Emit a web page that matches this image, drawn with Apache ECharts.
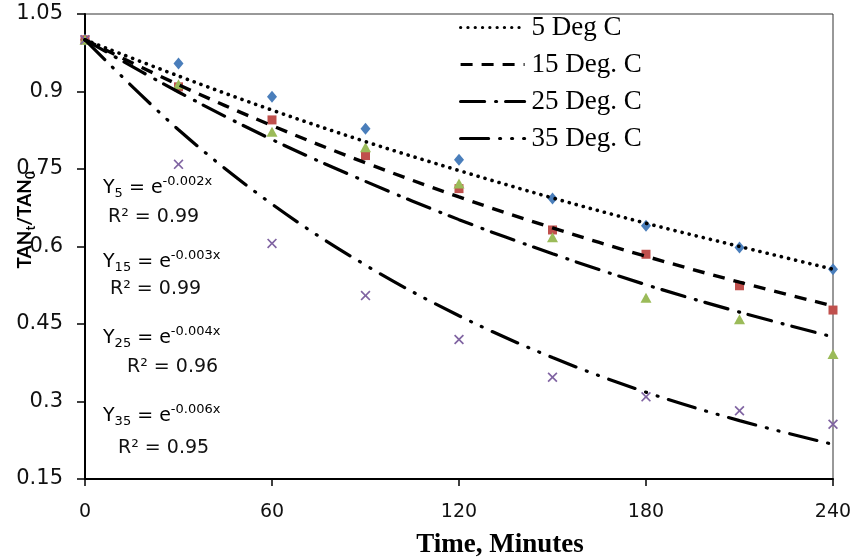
<!DOCTYPE html>
<html><head><meta charset="utf-8">
<script src="https://cdn.jsdelivr.net/npm/echarts@6/dist/echarts.min.js"></script>
<style>html,body{margin:0;padding:0;background:#fff}#c{width:855px;height:558px}</style>
</head><body><div id="c"></div>
<script>
// Time (minutes)
var time = [0, 30, 60, 90, 120, 150, 180, 210, 240];
// Observed TANt/TAN0
var obs5  = [1.0, 0.954, 0.890, 0.828, 0.768, 0.693, 0.640, 0.598, 0.556];
var obs15 = [1.0, 0.909, 0.845, 0.776, 0.712, 0.632, 0.585, 0.524, 0.477];
var obs25 = [1.0, 0.914, 0.822, 0.792, 0.722, 0.618, 0.501, 0.459, 0.392];
var obs35 = [1.0, 0.759, 0.606, 0.505, 0.420, 0.347, 0.309, 0.282, 0.256];
// Exponential trend lines
var fit5  = [1.0, 0.930, 0.864, 0.803, 0.747, 0.694, 0.645, 0.600, 0.556];
var fit15 = [1.0, 0.913, 0.834, 0.762, 0.696, 0.636, 0.581, 0.531, 0.485];
var fit25 = [1.0, 0.899, 0.807, 0.726, 0.652, 0.586, 0.526, 0.473, 0.425];
var fit35 = [1.0, 0.826, 0.682, 0.564, 0.466, 0.385, 0.318, 0.263, 0.217];
var lineNames = ['5 Deg C', '15 Deg. C', '25 Deg. C', '35 Deg. C'];
var yTicks = [0.15, 0.3, 0.45, 0.6, 0.75, 0.9, 1.05];
var xTicks = [0, 60, 120, 180, 240];
var eqs = [
  {sub: '5', k: '-0.002x', r2: '0.99'},
  {sub: '15', k: '-0.003x', r2: '0.99'},
  {sub: '25', k: '-0.004x', r2: '0.96'},
  {sub: '35', k: '-0.006x', r2: '0.95'}
];

function pairs(ys) { return time.map(function (t, i) { return [t, ys[i]]; }); }

var crossPath = 'path://M0,1.2L1.2,0L5,3.8L8.8,0L10,1.2L6.2,5L10,8.8L8.8,10L5,6.2L1.2,10L0,8.8L3.8,5Z';

var chart = echarts.init(document.getElementById('c'), null, {renderer: 'canvas'});
var sansF = 'DejaVu Sans';
var eqRich = {
  b: {fontFamily: sansF, fontSize: 19, color: '#111'},
  s: {fontFamily: sansF, fontSize: 13, color: '#111', padding: [12, 0, 0, 0]},
  p: {fontFamily: sansF, fontSize: 13, color: '#111', padding: [0, 0, 12, 0]}
};
var eqPos = [
  {x: 103, y: 188, rx: 108, ry: 217},
  {x: 103, y: 262, rx: 110, ry: 289},
  {x: 103, y: 338, rx: 127, ry: 367},
  {x: 103, y: 416, rx: 118, ry: 448}
];
var graphics = [];
eqs.forEach(function (e, i) {
  graphics.push({type: 'text', x: eqPos[i].x, y: eqPos[i].y, z: 10,
    style: {text: '{b|Y}{s|' + e.sub + '}{b| = e}{p|' + e.k + '}', rich: eqRich, verticalAlign: 'middle', align: 'left'}});
  graphics.push({type: 'text', x: eqPos[i].rx, y: eqPos[i].ry, z: 10,
    style: {text: 'R² = ' + e.r2, fontFamily: sansF, fontSize: 19, fill: '#111', verticalAlign: 'middle', align: 'left'}});
});
graphics.push({type: 'text', x: 25, y: 220, rotation: Math.PI / 2, z: 10,
  style: {text: '{a|TAN}{s|t}{a|/TAN}{s|0}', align: 'center', verticalAlign: 'middle',
    rich: {a: {fontFamily: 'Lato', fontWeight: 'bold', fontSize: 19, color: '#111'},
           s: {fontFamily: 'Lato', fontWeight: 'bold', fontSize: 13, color: '#111', padding: [11, 0, 0, 0]}}}});

var lineStyles = [
  {type: [0.1, 7.2], cap: 'round', width: 3.6},
  {type: [12, 9], cap: 'butt', width: 3.4},
  {type: [24, 11, 1, 9], cap: 'round', width: 3.2},
  {type: [28, 11, 1, 11, 1, 11], cap: 'round', width: 3.2}
];
var fits = [fit5, fit15, fit25, fit35];
var obsList = [obs5, obs15, obs25, obs35];
var markerDefs = [
  {symbol: 'diamond', size: [10, 12], color: '#4A7EBB'},
  {symbol: 'rect', size: 9, color: '#C0504D'},
  {symbol: 'triangle', size: [11, 10], color: '#9BBB59'},
  {symbol: crossPath, size: 10, color: '#8064A2'}
];
var series = [];
obsList.forEach(function (o, i) {
  series.push({type: 'scatter', name: 'obs' + i, data: pairs(o), symbol: markerDefs[i].symbol,
    symbolSize: markerDefs[i].size, itemStyle: {color: markerDefs[i].color, opacity: 1}, z: 2, silent: true});
});
fits.forEach(function (f, i) {
  series.push({type: 'line', name: lineNames[i], data: pairs(f), smooth: 0.35, symbol: 'none',
    lineStyle: Object.assign({color: '#000'}, lineStyles[i]), itemStyle: {color: '#000'}, z: 3});
});

chart.setOption({
  animation: false,
  backgroundColor: '#fff',
  grid: {left: 85, right: 22, top: 14, bottom: 79, show: true, borderColor: '#333', borderWidth: 1,
    backgroundColor: 'transparent', containLabel: false, outerBoundsMode: 'none'},
  legend: {
    data: lineNames, orient: 'vertical', left: 459, top: 14, itemWidth: 64, itemHeight: 20, itemGap: 10,
    itemStyle: {opacity: 0},
    lineStyle: {width: 3.2},
    textStyle: {fontFamily: 'Liberation Serif', fontSize: 27, color: '#000', lineHeight: 27, padding: [0, 0, 0, 2]},
    padding: 0, inactiveColor: '#000'
  },
  xAxis: {
    type: 'value', min: 0, max: 240, interval: 60,
    name: 'Time, Minutes', nameLocation: 'middle', nameGap: 53,
    nameTextStyle: {fontFamily: 'Liberation Serif', fontWeight: 'bold', fontSize: 27, color: '#000', padding: [0, 0, 0, 82]},
    axisLine: {lineStyle: {color: '#000', width: 2}},
    axisTick: {show: true, length: 7, lineStyle: {color: '#000', width: 1.5}},
    axisLabel: {fontFamily: sansF, fontSize: 19, color: '#111', margin: 24,
      formatter: function (v) { return xTicks.indexOf(v) >= 0 ? String(v) : ''; }},
    splitLine: {show: false}
  },
  yAxis: {
    type: 'value', min: 0.15, max: 1.05, interval: 0.15,
    axisLine: {show: true, lineStyle: {color: '#000', width: 2}},
    axisTick: {show: true, length: 8, lineStyle: {color: '#000', width: 1.5}},
    axisLabel: {fontFamily: sansF, fontSize: 21, color: '#111', margin: 22,
      formatter: function (v) {
        var r = Math.round(v * 100) / 100;
        return yTicks.indexOf(r) >= 0 ? String(r) : '';
      }},
    splitLine: {show: false}
  },
  graphic: graphics,
  series: series
});
</script></body></html>
